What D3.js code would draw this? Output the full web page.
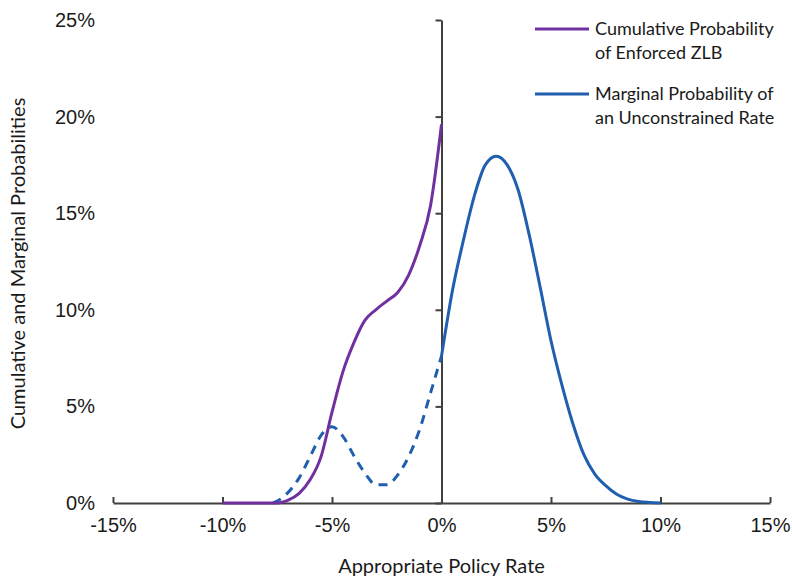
<!DOCTYPE html>
<html>
<head>
<meta charset="utf-8">
<script src="https://cdn.jsdelivr.net/npm/d3@7"></script>
<style>
  body { margin: 0; background: #fff; }
  svg { font-family: "Lato", "Open Sans", sans-serif; }
</style>
</head>
<body>
<svg id="chart" width="792" height="581"></svg>
<script>
// policy rate (%) and probabilities (%)
let cumRate = [-10, -7.5, -7, -6.5, -6, -5.5, -5, -4.5, -4, -3.5, -3, -2.5, -2, -1.5, -1, -0.5, 0];
let cumProb = [0, 0, 0.15, 0.5, 1.2, 2.4, 4.7, 6.8, 8.3, 9.45, 10.0, 10.45, 10.9, 11.8, 13.3, 15.4, 19.6];

let margRate = [0, 0.5, 1, 1.5, 2, 2.5, 3, 3.5, 4, 4.5, 5, 5.5, 6, 6.5, 7, 7.5, 8, 8.5, 9, 9.5, 10];
let margProb = [7.6, 11.0, 13.6, 15.9, 17.5, 17.95, 17.5, 16.2, 13.9, 11.2, 8.4, 6.1, 4.1, 2.5, 1.5, 0.9, 0.45, 0.2, 0.08, 0.03, 0];

let censRate = [-7.7, -7.5, -7, -6.5, -6, -5.5, -5, -4.5, -4, -3.5, -3, -2.5, -2, -1.5, -1, -0.5, 0];
let censProb = [0, 0.1, 0.55, 1.3, 2.4, 3.5, 3.95, 3.45, 2.45, 1.55, 0.95, 0.95, 1.45, 2.4, 3.8, 5.7, 7.6];

let xTicks = [-15, -10, -5, 0, 5, 10, 15];
let yTicks = [0, 5, 10, 15, 20, 25];

let legendLabels = [
    ["Cumulative Probability", "of Enforced ZLB"],
    ["Marginal Probability of", "an Unconstrained Rate"]
];

let purple = "#7030a0";
let blue = "#1f5fae";
let axisColor = "#404040";

let svg = d3.select("#chart");

let xScale = d3.scaleLinear().domain([-15, 15]).range([113, 770]);
let yScale = d3.scaleLinear().domain([0, 25]).range([503, 20]);

let pct = d => d + "%";

// x axis with ticks pointing up
let xAxis = d3.axisBottom(xScale)
    .tickValues(xTicks)
    .tickFormat(pct)
    .tickSizeInner(-6)
    .tickSizeOuter(0)
    .tickPadding(15);
let xg = svg.append("g")
    .attr("transform", `translate(0, ${yScale(0)})`)
    .call(xAxis);

// vertical axis crossing at 0%
let yAxis = d3.axisLeft(yScale)
    .tickValues(yTicks)
    .tickFormat("")
    .tickSizeInner(6)
    .tickSizeOuter(0);
let yg = svg.append("g")
    .attr("transform", `translate(${xScale(0)}, 0)`)
    .call(yAxis);

// y labels sit at the far left
let yLabels = d3.axisLeft(yScale)
    .tickValues(yTicks)
    .tickFormat(pct)
    .tickSize(0)
    .tickPadding(0);
let yl = svg.append("g")
    .attr("transform", "translate(95, 0)")
    .call(yLabels);
yl.select(".domain").remove();

[xg, yg].forEach(g => {
    g.select(".domain").attr("stroke", axisColor).attr("stroke-width", 2);
    g.selectAll(".tick line").attr("stroke", axisColor).attr("stroke-width", 2);
});
[xg, yl].forEach(g => {
    g.selectAll("text")
      .attr("font-size", "20px")
      .attr("fill", "#1a1a1a");
});

// axis titles
svg.append("text")
    .attr("x", xScale(0))
    .attr("y", 573)
    .attr("text-anchor", "middle")
    .attr("font-size", "20px")
    .attr("fill", "#1a1a1a")
    .text("Appropriate Policy Rate");

svg.append("text")
    .attr("transform", `translate(25, ${yScale(12.5) + 2}) rotate(-90)`)
    .attr("text-anchor", "middle")
    .attr("font-size", "20px")
    .attr("fill", "#1a1a1a")
    .text("Cumulative and Marginal Probabilities");

// lines
let line = d3.line()
    .x(d => xScale(d[0]))
    .y(d => yScale(d[1]))
    .curve(d3.curveMonotoneX);

svg.append("path")
    .datum(d3.zip(censRate, censProb))
    .attr("d", line)
    .attr("fill", "none")
    .attr("stroke", blue)
    .attr("stroke-width", 3)
    .style("stroke-dasharray", "9,7");

svg.append("path")
    .datum(d3.zip(cumRate, cumProb))
    .attr("d", line)
    .attr("fill", "none")
    .attr("stroke", purple)
    .attr("stroke-width", 3);

svg.append("path")
    .datum(d3.zip(margRate, margProb))
    .attr("d", line)
    .attr("fill", "none")
    .attr("stroke", blue)
    .attr("stroke-width", 3);

// legend (slightly smaller than the source so the text fits the page)
let legendColors = [purple, blue];
let legend = svg.append("g");
legendLabels.forEach((lines, i) => {
    let y = 29 + i * 65;
    legend.append("line")
        .attr("x1", 535).attr("x2", 589)
        .attr("y1", y).attr("y2", y)
        .attr("stroke", legendColors[i])
        .attr("stroke-width", 3);
    lines.forEach((t, j) => {
        legend.append("text")
            .attr("x", 595)
            .attr("y", y + j * 24)
            .attr("dy", "0.35em")
            .attr("font-size", "18px")
            .attr("fill", "#1a1a1a")
            .text(t);
    });
});
</script>
</body>
</html>
